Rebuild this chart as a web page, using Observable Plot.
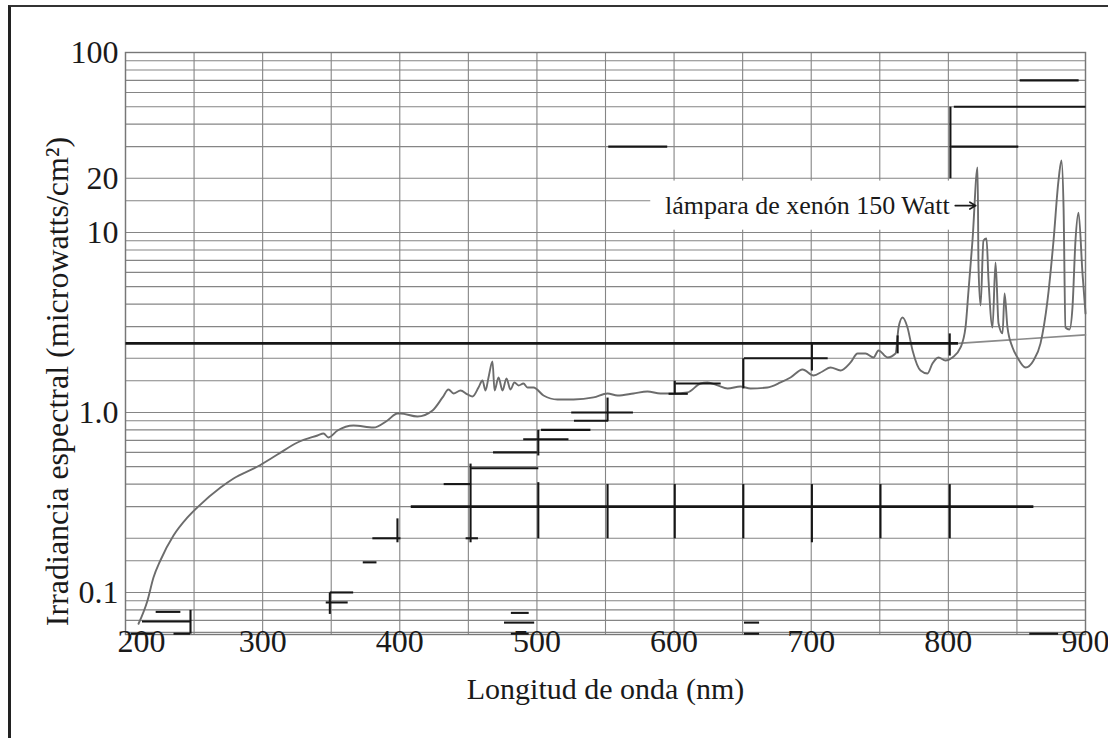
<!DOCTYPE html>
<html>
<head>
<meta charset="utf-8">
<script src="https://cdn.jsdelivr.net/npm/d3@7"></script>
<script src="https://cdn.jsdelivr.net/npm/@observablehq/plot@0.6"></script>
<style>
  body { margin: 0; background: #fff; }
  #chart { position: relative; width: 1108px; height: 738px; overflow: hidden; }
  #sheet { position: absolute; left: 8px; top: 5px; width: 1110px; height: 740px;
           border-left: 3px solid #222; border-top: 2px solid #333; pointer-events: none; }
</style>
</head>
<body>
<div id="chart"><div id="sheet"></div></div>
<script>
// Spectral irradiance of a 150 W xenon lamp (nm, microwatts/cm²)
const wavelength = [209.5, 216, 220.4, 225.5, 235, 245.2, 253.2, 269.3, 278.8, 296.3, 310.8, 325.4, 340, 344.4, 348, 354.6, 366.3, 380.8, 391, 398.3, 400.5, 412.9, 423.9, 431.2, 435.5, 439.2, 444.3, 449.4, 453, 457.4, 460.3, 462.5, 464.7, 467.6, 469.1, 472, 474.9, 477.8, 480.7, 483.6, 486.6, 490.2, 493.1, 497.5, 504.8, 515, 526.7, 541.3, 551.5, 558.8, 570.4, 580.6, 590.1, 599.6, 609.8, 619.3, 624.4, 631.7, 639, 648.4, 655.7, 668.1, 677.6, 684.9, 693.7, 701.7, 708.2, 714.1, 721.4, 728.7, 733.8, 739.6, 745.4, 749.1, 755.6, 761.5, 763.7, 766.6, 770.2, 773.9, 779.7, 784.8, 788.4, 792.8, 797.9, 803, 808.9, 812.5, 814.7, 817.6, 821.3, 822, 823.5, 825.6, 827.8, 829.3, 832.2, 834.4, 836.6, 839.5, 841, 843.1, 846.8, 850.4, 856.3, 862.1, 867.2, 872.3, 876.7, 880.3, 882.5, 884, 885.4, 888.3, 890.5, 892.7, 894.9, 897.8, 900];
const irradiance = [0.067, 0.09, 0.121, 0.151, 0.207, 0.261, 0.301, 0.383, 0.43, 0.501, 0.584, 0.681, 0.745, 0.764, 0.726, 0.794, 0.847, 0.825, 0.903, 0.987, 0.987, 0.95, 1.026, 1.212, 1.342, 1.275, 1.325, 1.259, 1.227, 1.377, 1.506, 1.325, 1.565, 1.92, 1.325, 1.565, 1.325, 1.545, 1.342, 1.468, 1.413, 1.449, 1.377, 1.377, 1.243, 1.181, 1.181, 1.212, 1.275, 1.243, 1.275, 1.308, 1.275, 1.275, 1.292, 1.449, 1.468, 1.413, 1.359, 1.395, 1.359, 1.377, 1.468, 1.565, 1.733, 1.605, 1.689, 1.778, 1.711, 1.896, 2.127, 2.127, 2.022, 2.21, 2.022, 2.127, 2.966, 3.37, 2.966, 2.21, 1.711, 1.647, 1.872, 2.022, 1.945, 2.022, 2.297, 2.966, 4.76, 9.03, 22.96, 6.39, 3.93, 9.03, 9.26, 5.41, 2.966, 6.81, 3.12, 2.75, 4.58, 2.966, 2.297, 2.022, 1.778, 1.945, 2.42, 4.19, 9.03, 19.4, 25.1, 13.8, 2.966, 2.89, 3.83, 9.03, 12.9, 5.93, 3.55];

// Grey continuation past the reference level
const tailWavelength = [807, 900];
const tailIrradiance = [2.42, 2.7];

// Log-paper grid
const gridWavelengths = [200, 250, 300, 350, 400, 450, 500, 550, 600, 650, 700, 750, 800, 850, 900];
const gridLevels = [0.06, 0.07, 0.08, 0.09, 0.1, 0.15, 0.2, 0.3, 0.4, 0.5, 0.6, 0.7, 0.8, 0.9,
                    1, 1.5, 2, 3, 4, 5, 6, 7, 8, 9, 10, 15, 20, 30, 40, 50, 60, 70, 80, 90, 100];

// Tick labels
const xTickValues = [200, 300, 400, 500, 600, 700, 800, 900];
const yTickValues = [0.1, 1, 10, 20, 100];
const yTickLabels = ["0.1", "1.0", "10", "20", "100"];

// Heavy reference levels: [from nm, to nm, level]
const refLines = [[200, 807, 2.42], [408, 862, 0.3]];

// Step marks, horizontal: [from nm, to nm, level]
const stepRuns = [
  [222, 240, 0.078], [212, 247, 0.069], [204, 220, 0.059], [235, 247, 0.059],
  [349, 366, 0.1], [346, 362, 0.088], [373, 383, 0.147], [380, 400.5, 0.2],
  [432, 452, 0.4], [452, 501, 0.49], [468, 500, 0.6], [490, 523, 0.71],
  [503, 539, 0.8], [527, 552, 0.9], [525, 570, 1.0], [448, 457, 0.2],
  [601, 634, 1.45], [596, 610, 1.27], [651, 712, 2.0],
  [552, 595, 30], [804, 900, 50], [802, 851, 30], [852, 895, 70],
  [481, 494, 0.077], [476, 498, 0.068], [481, 494, 0.059],
  [651, 662, 0.068], [651, 662, 0.059], [859, 880, 0.059]
];

// Step marks, vertical: [nm, low, high]
const stepRisers = [
  [247.4, 0.059, 0.08], [349, 0.076, 0.1], [398.3, 0.19, 0.258],
  [451.6, 0.19, 0.52], [501, 0.577, 0.8], [501, 0.2, 0.41],
  [551.5, 0.9, 1.21], [551.5, 0.2, 0.4], [600.5, 1.27, 1.5], [600.5, 0.2, 0.4],
  [650.5, 1.36, 2.0], [650.5, 0.2, 0.4], [700.5, 1.71, 2.42], [700.5, 0.19, 0.4],
  [750.5, 0.2, 0.4], [801, 2.07, 2.75], [801, 0.2, 0.4], [801.5, 20, 50],
  [763, 2.13, 2.68]
];

// Lamp label
const lampLabel = [{x: 801, y: 14.1, text: "lámpara de xenón 150 Watt"}];
const lampArrow = [{x1: 805, x2: 820, y: 14.1}];
const lampBox = [{x1: 583, x2: 820, y1: 10.3, y2: 19.3}];

const spectrum = wavelength.map((w, i) => ({w, v: irradiance[i]}));
const tail = tailWavelength.map((w, i) => ({w, v: tailIrradiance[i]}));

const serif = "'Liberation Serif', 'Times New Roman', serif";
const ink = "#161616";
const grid = "#858585";

const chart = Plot.plot({
  width: 1108,
  height: 738,
  marginLeft: 125,
  marginRight: 23,
  marginTop: 52,
  marginBottom: 104,
  x: {domain: [200, 900], axis: null},
  y: {type: "log", domain: [0.0584, 100], axis: null},
  style: {fontFamily: serif, background: "transparent", color: "#1a1a1a"},
  marks: [
    Plot.ruleX(gridWavelengths, {stroke: grid, strokeWidth: 1.1}),
    Plot.ruleY(gridLevels, {stroke: grid, strokeWidth: 1.1}),
    Plot.frame({stroke: "#777", strokeWidth: 1.4}),
    Plot.rect(lampBox, {x1: "x1", x2: "x2", y1: "y1", y2: "y2", fill: "white"}),
    Plot.line(tail, {x: "w", y: "v", stroke: "#8a8a8a", strokeWidth: 1.6}),
    Plot.line(spectrum, {x: "w", y: "v", stroke: "#6c6c6c", strokeWidth: 1.9, curve: "monotone-x"}),
    Plot.link(refLines, {x1: d => d[0], x2: d => d[1], y1: d => d[2], y2: d => d[2], stroke: ink, strokeWidth: 2.6}),
    Plot.link(stepRuns, {x1: d => d[0], x2: d => d[1], y1: d => d[2], y2: d => d[2], stroke: ink, strokeWidth: 2.1}),
    Plot.link(stepRisers, {x1: d => d[0], x2: d => d[0], y1: d => d[1], y2: d => d[2], stroke: ink, strokeWidth: 2.1}),
    Plot.text(lampLabel, {x: "x", y: "y", text: "text", textAnchor: "end", fontSize: 26, fill: "#1a1a1a"}),
    Plot.arrow(lampArrow, {x1: "x1", x2: "x2", y1: "y", y2: "y", stroke: "#1a1a1a", strokeWidth: 1.6, headLength: 7}),
    // axis tick labels
    Plot.text(yTickValues, {y: d => d, text: (d, i) => yTickLabels[i], frameAnchor: "left", textAnchor: "end",
      dx: -7, fontSize: 32, ariaLabel: "y-ticks"}),
    Plot.text(xTickValues.slice(1), {x: d => d, text: d => String(d), frameAnchor: "bottom", dy: 17,
      fontSize: 32, ariaLabel: "x-ticks"}),
    Plot.text(xTickValues.slice(0, 1), {x: d => d, text: d => String(d), frameAnchor: "bottom", dy: 17, dx: 16,
      fontSize: 32, ariaLabel: "x-ticks"}),
    // axis titles
    Plot.text(["Longitud de onda (nm)"], {text: d => d, frameAnchor: "bottom", textAnchor: "middle", dy: 64,
      fontSize: 30, ariaLabel: "x-title"}),
    Plot.text(["Irradiancia espectral (microwatts/cm²)"], {text: d => d, frameAnchor: "left", textAnchor: "middle",
      dx: -68, dy: 38, rotate: -90, fontSize: 32, ariaLabel: "y-title"})
  ]
});

// Narrow typeface look for the axis lettering
function squeeze(selector, sx, sy) {
  d3.select(chart).selectAll(selector).each(function () {
    const t = this.getAttribute("transform") || "";
    this.setAttribute("transform", `${t} scale(${sx},${sy})`);
  });
}
squeeze('g[aria-label="y-ticks"] text', 0.82, 1);
squeeze('g[aria-label="x-ticks"] text', 0.82, 1);
squeeze('g[aria-label="x-title"] text', 0.85, 1);
squeeze('g[aria-label="y-title"] text', 1, 0.84);

document.getElementById("chart").prepend(chart);
</script>
</body>
</html>
